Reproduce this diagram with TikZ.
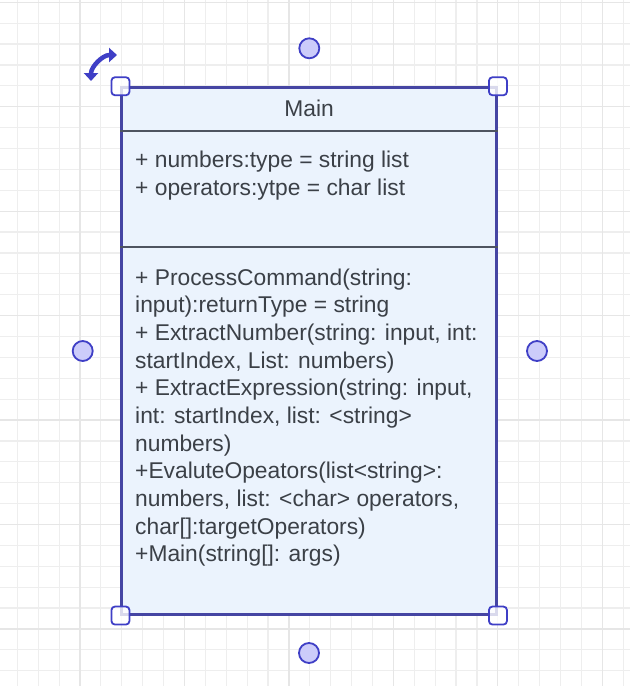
\documentclass[tikz,border=0pt]{standalone}
\usepackage{fontspec}
\setmainfont{Liberation Sans}
\usetikzlibrary{arrows.meta}
\definecolor{gridminor}{HTML}{EEEEEE}
\definecolor{gridmajor}{HTML}{E6E6E6}
\definecolor{classfill}{HTML}{EBF3FD}
\definecolor{classborder}{HTML}{4545A3}
\definecolor{handleblue}{HTML}{3F3FC6}
\definecolor{handlefill}{HTML}{CCCCFA}
\definecolor{rulegray}{HTML}{4E5460}
\definecolor{textgray}{HTML}{3B4047}
\begin{document}
\begin{tikzpicture}[x=1pt, y=-1pt]
	\tikzstyle{Minor} = [gridminor, line width=1.2pt]
	\tikzstyle{Major} = [gridmajor, line width=1.3pt]
	\tikzstyle{Class} = [rectangle, draw=classborder, fill=classfill, line width=2.5pt, inner sep=0pt]
	\tikzstyle{Rule} = [rulegray, line width=2.3pt]
	\tikzstyle{Label} = [textgray, inner sep=0pt, align=left, font=\fontsize{22.8}{27.67}\selectfont]
	\tikzstyle{Handle} = [rectangle, rounded corners=3.5pt, draw=handleblue, fill=white, fill opacity=0.8, line width=1.8pt, minimum size=18pt, inner sep=0pt]
	\tikzstyle{Knob} = [circle, draw=handleblue, fill=handlefill, line width=1.8pt, minimum size=20pt, inner sep=0pt]
	\tikzstyle{Rotate} = [handleblue, line width=4.5pt, {Triangle[width=14pt, length=8pt]}-{Triangle[width=14pt, length=8pt]}]
	\useasboundingbox (0,0) rectangle (630,686);
	\fill[white] (0,0) rectangle (630,686);
	\foreach \i in {0,...,29}
		\draw[Minor] ({17.33+\i*20.89},0) -- ({17.33+\i*20.89},686);
	\foreach \i in {0,...,32}
		\draw[Minor] (0,{2.25+\i*20.89}) -- (630,{2.25+\i*20.89});
	\foreach \k in {0,...,5}
		\draw[Major] ({80+\k*104.45},0) -- ({80+\k*104.45},686);
	\foreach \k in {0,...,6}
		\draw[Major] (0,{2.25+\k*104.45}) -- (630,{2.25+\k*104.45});
	\node (box) at (309.2,350.9) [Class, minimum width=375pt, minimum height=526.8pt] {};
	\draw[Rule] ([yshift=-44.8pt]box.north west) -- ([yshift=-44.8pt]box.north east);
	\draw[Rule] ([yshift=-160.5pt]box.north west) -- ([yshift=-160.5pt]box.north east);
	\node (title) at (309.2,116) [Label, anchor=base] {Main};
	\node (attrs) at (135,195) [Label, anchor=base west] {+ numbers:type = string list\\+ operators:ytpe = char list};
	\node (ops) at (135,561.7) [Label, anchor=base west] {+ ProcessCommand(string:\\input):returnType = string\\+ ExtractNumber(string: input, int:\\startIndex, List: numbers)\\+ ExtractExpression(string: input,\\int: startIndex, list: <string>\\numbers)\\+EvaluteOpeators(list<string>:\\numbers, list: <char> operators,\\char[]:targetOperators)\\+Main(string[]: args)};
	\node (h1) at (box.north west) [Handle] {};
	\node (h2) at (box.north east) [Handle] {};
	\node (h3) at (box.south west) [Handle] {};
	\node (h4) at (box.south east) [Handle] {};
	\node (c1) at (309.3,48.3) [Knob] {};
	\node (c2) at (82.7,351) [Knob] {};
	\node (c3) at (537,351) [Knob] {};
	\node (c4) at (309,653) [Knob] {};
	\draw[Rotate] (91,81) arc[start angle=180, end angle=270, radius=26];
\end{tikzpicture}
\end{document}
